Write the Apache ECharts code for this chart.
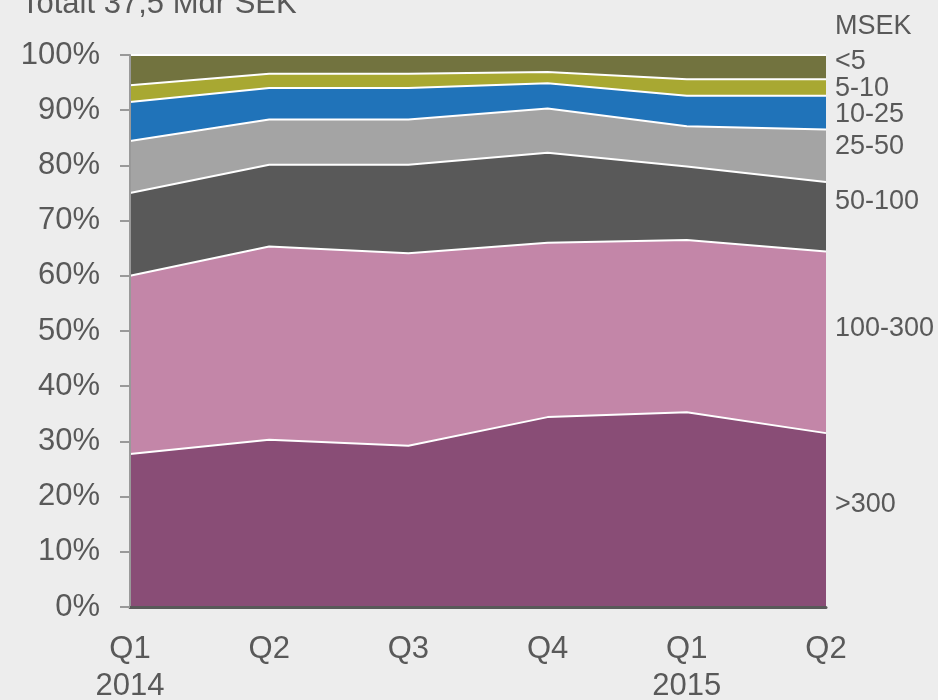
<!DOCTYPE html>
<html>
<head>
<meta charset="utf-8">
<script src="https://cdn.jsdelivr.net/npm/echarts@6/dist/echarts.min.js"></script>
<style>
html,body{margin:0;padding:0;background:#ededed;}
#chart{width:938px;height:700px;}
</style>
</head>
<body>
<div id="chart"></div>
<script>
// Categories (quarter + year)
var categories = ['Q1\n2014', 'Q2', 'Q3', 'Q4', 'Q1\n2015', 'Q2'];
// Series names (bottom to top)
var seriesNames = ['>300', '100-300', '50-100', '25-50', '10-25', '5-10', '<5'];
// Share of total (%) per size class, per quarter
var s300plus  = [27.7, 30.3, 29.2, 34.4, 35.3, 31.5];
var s100_300  = [32.3, 35.0, 34.9, 31.6, 31.2, 32.9];
var s50_100   = [15.0, 14.8, 16.0, 16.3, 13.3, 12.6];
var s25_50    = [9.4, 8.2, 8.2, 8.0, 7.3, 9.5];
var s10_25    = [7.1, 5.7, 5.7, 4.6, 5.5, 6.1];
var s5_10     = [3.0, 2.6, 2.6, 2.0, 3.0, 3.0];
var sUnder5   = [5.5, 3.4, 3.4, 3.1, 4.4, 4.4];
var yTicks = [0, 10, 20, 30, 40, 50, 60, 70, 80, 90, 100];

var values = [s300plus, s100_300, s50_100, s25_50, s10_25, s5_10, sUnder5];
var colors = ['#894d76', '#c386a8', '#595959', '#a4a4a4', '#2073b9', '#a8a832', '#72733f'];

var chart = echarts.init(document.getElementById('chart'));
var font = '"Liberation Sans", Arial, sans-serif';

var series = seriesNames.map(function (n, i) {
  return {
    name: n,
    type: 'line',
    stack: 'total',
    data: values[i],
    showSymbol: false,
    symbol: 'none',
    lineStyle: { color: '#ffffff', width: 2 },
    areaStyle: { color: colors[i], opacity: 1 },
    itemStyle: { color: colors[i] },
    silent: true
  };
});

// Right-side labels
var labelPos = [503, 327, 200, 145, 113, 87, 60];
var graphics = [{
  type: 'text', left: 21, top: -11,
  style: { text: 'Totalt 37,5 Mdr SEK', font: '31px ' + font, fill: '#595959' }
}, {
  type: 'text', left: 835, top: 25 - 12,
  style: { text: 'MSEK', font: '27px ' + font, fill: '#595959' }
}];
seriesNames.forEach(function (n, i) {
  graphics.push({
    type: 'text', left: 835, top: labelPos[i] - 12,
    style: { text: n, font: '27px ' + font, fill: '#595959' }
  });
});

chart.setOption({
  backgroundColor: '#ededed',
  animation: false,
  grid: { left: 130, right: 112, top: 55, bottom: 93, containLabel: false, outerBoundsMode: 'none' },
  xAxis: {
    type: 'category',
    boundaryGap: false,
    data: categories,
    axisLine: { show: true, lineStyle: { color: '#595959', width: 3 } },
    axisTick: { show: false },
    axisLabel: {
      color: '#595959', fontSize: 31, fontFamily: font, lineHeight: 37,
      margin: 24, interval: 0
    },
    splitLine: { show: false },
    z: 10
  },
  yAxis: {
    type: 'value',
    min: 0, max: 100, interval: 10,
    axisLine: { show: true, lineStyle: { color: '#999999', width: 2 } },
    axisTick: { show: true, inside: false, length: 10, lineStyle: { color: '#999999', width: 2 } },
    axisLabel: {
      color: '#595959', fontSize: 31, fontFamily: font, margin: 30,
      formatter: function (v) { return yTicks.indexOf(v) >= 0 ? v + '%' : ''; }
    },
    splitLine: { show: false },
    z: 10
  },
  graphic: graphics,
  series: series
});
</script>
</body>
</html>
